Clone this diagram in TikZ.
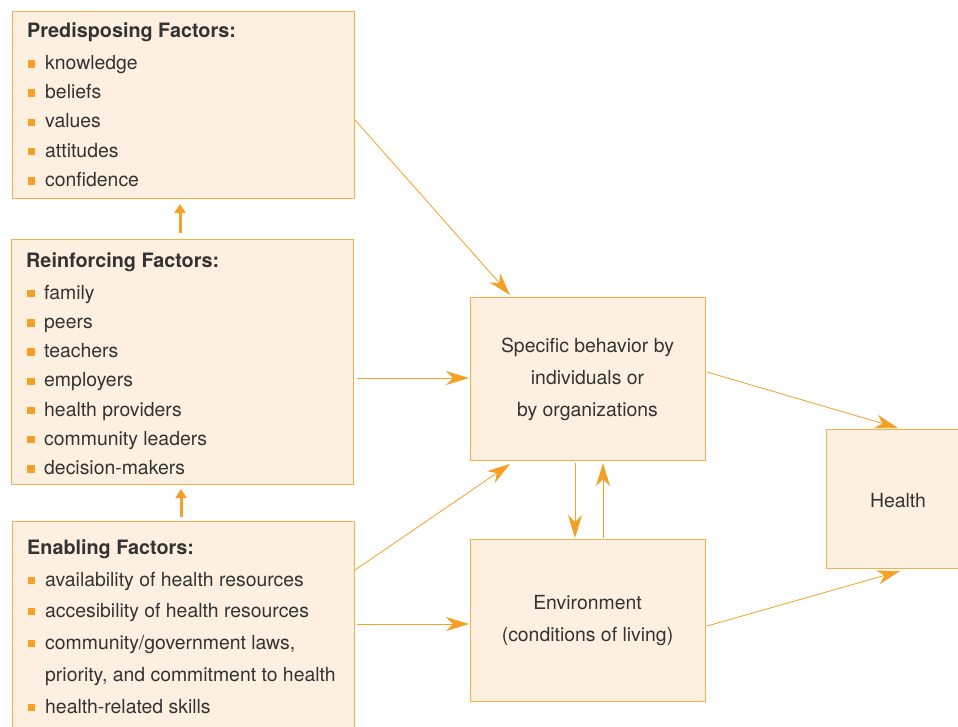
\documentclass[tikz,border=0pt]{standalone}
\usepackage{fontspec}
\setmainfont{TeX Gyre Heros}
\usetikzlibrary{arrows.meta,calc}
\definecolor{boxfill}{HTML}{FEF0E1}
\definecolor{boxline}{HTML}{F6B04B}
\definecolor{arr}{HTML}{F4A024}
\definecolor{txt}{HTML}{333333}
\begin{document}
\begin{tikzpicture}[x=1pt,y=-1pt,
  box/.style={draw=boxline,line width=1pt,fill=boxfill,anchor=north west,inner sep=0pt,minimum width=#1},
  title/.style={anchor=base west,inner sep=0pt,text=txt,font=\fontsize{19.8}{23}\selectfont\bfseries},
  item/.style={anchor=base west,inner sep=0pt,text=txt,font=\fontsize{19.4}{23}\selectfont},
  ctext/.style={inner sep=0pt,text=txt,font=\fontsize{19.4}{32}\selectfont,align=center},
  bullet/.style={fill=arr,minimum size=7.5pt,inner sep=0pt},
  conn/.style={draw=arr,line width=0.8pt,-{Stealth[length=23pt,width=14pt,inset=7pt]}},
  thick/.style={draw=arr,line width=3pt,-{Triangle[length=9pt,width=11pt]}}
]
\useasboundingbox (0,0) rectangle (958,726);
% boxes
\node[box=342pt,minimum height=187pt] (pred) at (12,11) {};
\node[box=342pt,minimum height=245pt] (reinf) at (11,239) {};
\node[box=342pt,minimum height=230pt] (enab) at (12,521) {};
\node[box=235pt,minimum height=163pt] (spec) at (470,297) {};
\node[box=235pt,minimum height=162pt] (env) at (470,539) {};
\node[box=150pt,minimum height=139pt] (health) at (826,429) {};
% predisposing
\node[title] (pt) at (27,37) {Predisposing Factors:};
\foreach \t [count=\i] in {knowledge,beliefs,values,attitudes,confidence}{
  \node[item] (p\i) at (45,40+\i*29.3) {\t};
  \node[bullet] (pb\i) at (31.5,34.5+\i*29.3) {};
}
% reinforcing
\node[title] (rt) at (26,267) {Reinforcing Factors:};
\foreach \t [count=\i] in {family,peers,teachers,employers,health providers,community leaders,decision-makers}{
  \node[item] (r\i) at (44,270+\i*29.2) {\t};
  \node[bullet] (rb\i) at (31,264.5+\i*29.2) {};
}
% enabling
\node[title] (et) at (27,554) {Enabling Factors:};
\node[item] (e1) at (45,586) {availability of health resources};
\node[bullet] (eb1) at (31.5,580.5) {};
\node[item] (e2) at (45,617) {accesibility of health resources};
\node[bullet] (eb2) at (31.5,611.5) {};
\node[item] (e3) at (45,649) {community/government laws,};
\node[bullet] (eb3) at (31.5,643.5) {};
\node[item] (e4) at (45,681) {priority, and commitment to health};
\node[item] (e5) at (45,713) {health-related skills};
\node[bullet] (eb5) at (31.5,707.5) {};
% center texts
\node[ctext] (st) at (587.5,379) {Specific behavior by\\individuals or\\by organizations};
\node[ctext] (envt) at (587.5,621) {Environment\\(conditions of living)};
\node[ctext] (ht) at (898,501) {Health};
% connectors
\draw[conn] ($(pred.north east)+(0,109)$) -- ($(spec.north west)+(40,-2)$);
\draw[conn] ($(reinf.north east)+(3,139)$) -- ($(spec.north west)+(-1,81)$);
\draw[conn] ($(enab.north east)+(0,49)$) -- ($(spec.south west)+(40,3)$);
\draw[conn] ($(enab.north east)+(2,103)$) -- ($(env.north west)+(-1,85)$);
\draw[conn] ($(spec.south west)+(105,2)$) -- ($(env.north west)+(105,-1)$);
\draw[conn] ($(env.north west)+(133,-1)$) -- ($(spec.south west)+(133,2)$);
\draw[conn] ($(spec.north east)+(1,75)$) -- ($(health.north west)+(72,-1)$);
\draw[conn] ($(env.north east)+(1,87)$) -- ($(health.south west)+(74,2)$);
\draw[thick] ($(reinf.north west)+(169,-6)$) -- ($(pred.south west)+(168,5)$);
\draw[thick] ($(enab.north west)+(169,-4)$) -- ($(reinf.south west)+(170,4)$);
\end{tikzpicture}
\end{document}
